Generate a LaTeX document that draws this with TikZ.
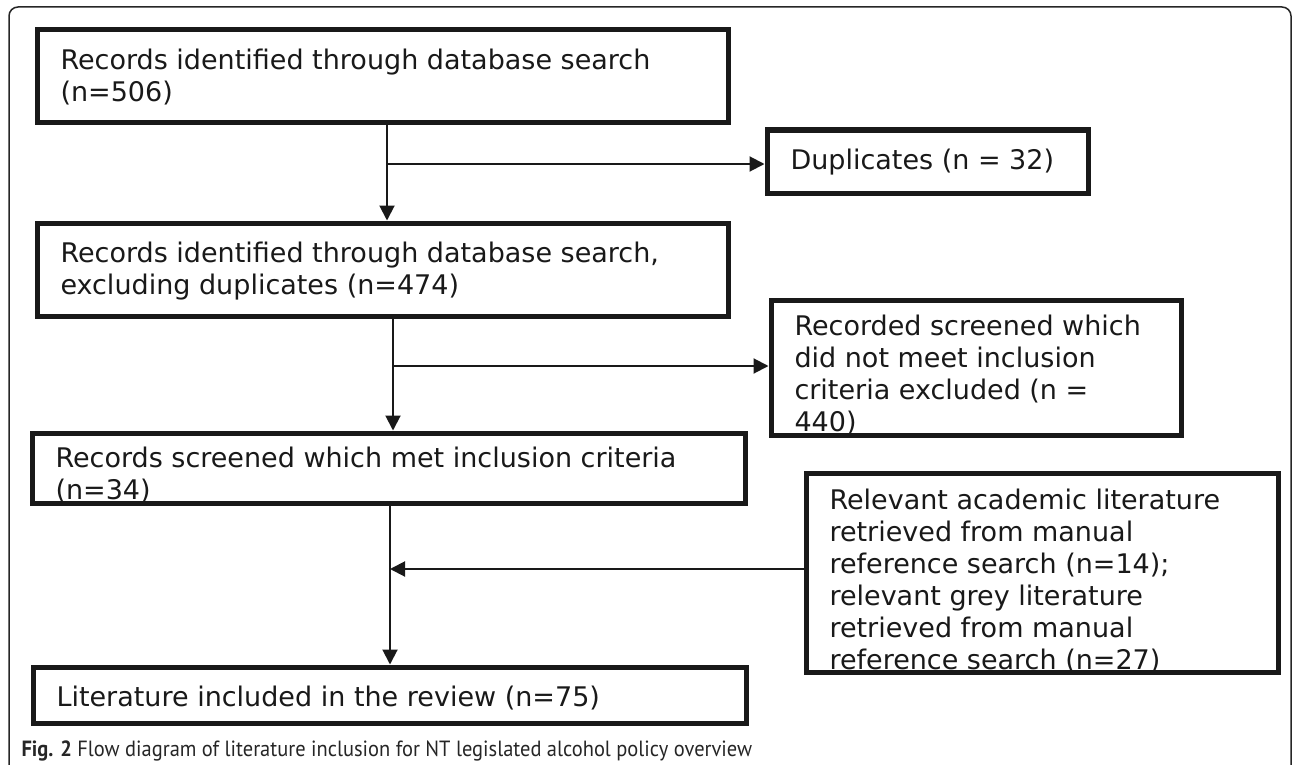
\documentclass[tikz,border=0pt]{standalone}
\usepackage{fontspec}
\setmainfont{DejaVu Sans}
\newfontfamily\capfont[FakeStretch=0.93]{PT Sans}
\usetikzlibrary{arrows.meta, positioning, calc}

% fixed-size text block for the flow boxes
\newcommand{\boxtext}[3]{\parbox[c][#2][t]{#1}{\raggedright\strut #3}}

\begin{document}
\begin{tikzpicture}[x=1pt, y=-1pt, >={Triangle[length=15pt, width=15pt]}, font=\fontsize{27}{32}\selectfont]
  \tikzset{
    stage/.style={draw=black!90, line width=5pt, anchor=north west, inner xsep=23.5pt, inner ysep=17pt, text=black!90},
    flow/.style={->, draw=black!90, line width=2pt},
  }
  \useasboundingbox (0,0) rectangle (1292,765);

  % outer frame
  \draw[black!85, line width=1.5pt, rounded corners=9pt] (9,800) -- (9,7) -- (1291,7) -- (1291,800);

  % main stages
  \node[stage] (search) at (34.5,27.5) {\boxtext{644pt}{59pt}{Records identified through database search\\(n=506)}};
  \node[stage] (dedup) at (34.5,220.5) {\boxtext{644pt}{59pt}{Records identified through database search,\\excluding duplicates (n=474)}};
  \node[stage, inner ysep=12pt] (screened) at (29.5,430.5) {\boxtext{666pt}{46pt}{Records screened which met inclusion criteria\\(n=34)}};
  \node[stage] (included) at (30.5,664.5) {\boxtext{666pt}{22pt}{Literature included in the review (n=75)}};

  % side boxes
  \node[stage] (dupl) at (764.5,127.5) {\boxtext{274pt}{29pt}{Duplicates (n = 32)}};
  \node[stage, inner ysep=13pt] (notmet) at (768.5,297.5) {\boxtext{363pt}{109pt}{Recorded screened which\\did not meet inclusion\\criteria excluded (n =\\440)}};
  \node[stage, inner ysep=14pt] (manual) at (803.5,470.5) {\boxtext{425pt}{171pt}{Relevant academic literature\\retrieved from manual\\reference search (n=14);\\relevant grey literature\\retrieved from manual\\reference search (n=27)}};

  % junctions on the main line
  \coordinate (j1) at (387,164);
  \coordinate (j2) at (393,366);
  \coordinate (j3) at (390,569);

  \draw[flow] (search.south -| j1) -- (dedup.north -| j1);
  \draw[flow] (j1) -- (dupl.west |- j1);
  \draw[flow] (dedup.south -| j2) -- (screened.north -| j2);
  \draw[flow] (j2) -- (notmet.west |- j2);
  \draw[flow] (screened.south -| j3) -- (included.north -| j3);
  \draw[flow] (manual.west |- j3) -- (j3);

  % caption
  \node[anchor=base west, font=\capfont\fontsize{22}{26}\selectfont, text=black!85] (caption) at (18,756) {\textbf{Fig. 2} Flow diagram of literature inclusion for NT legislated alcohol policy overview};
\end{tikzpicture}
\end{document}
